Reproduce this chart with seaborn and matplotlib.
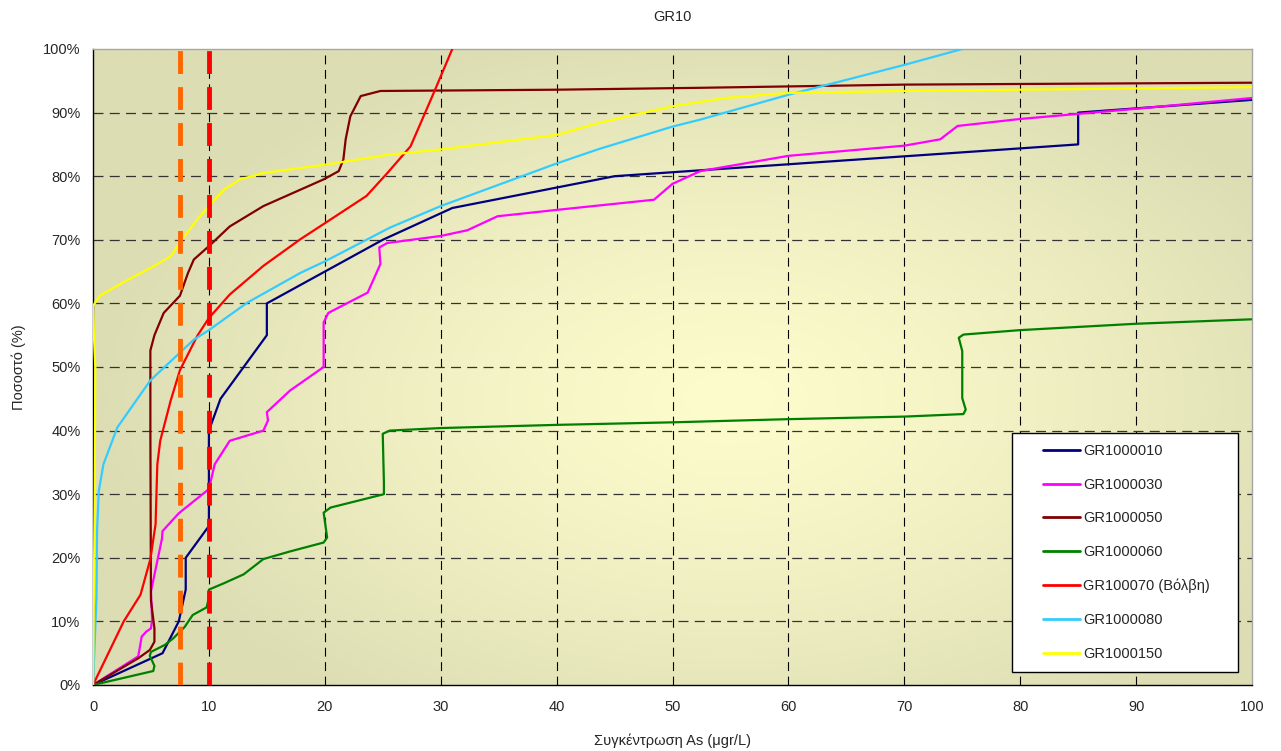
import numpy as np
import pandas as pd
import matplotlib
matplotlib.use("Agg")
import matplotlib.pyplot as plt
from matplotlib.ticker import MultipleLocator, FuncFormatter
from matplotlib.patches import Rectangle
import seaborn as sns

# ---------------- data ----------------
series_names = ["GR1000010", "GR1000030", "GR1000050", "GR1000060",
                "GR100070 (Βόλβη)", "GR1000080", "GR1000150"]
series_colors = ["#000080", "#FF00FF", "#800000", "#008000",
                 "#FF0000", "#33CCFF", "#FFFF00"]

gr010_x = [0, 6, 7.4, 8, 8, 10, 10, 11, 15, 15, 25, 31, 45, 85, 85, 100]
gr010_y = [0, 5, 10, 15, 20, 25, 40, 45, 55, 60, 70, 75, 80, 85, 90, 92]

gr030_x = [0, 3.9, 4.0, 4.2, 4.6, 5.0, 5.1, 5.0, 5.95, 6.0, 7.4, 10, 10.5, 11.8, 14.7, 15.1,
           15.0, 17.0, 19.9, 19.9, 20.3, 23.7, 24.8, 24.7, 25.4, 30, 32.3, 34.9, 40,
           48.4, 50.0, 52.4, 60, 70, 73.1, 74.6, 80, 90, 100]
gr030_y = [0, 4.5, 5.5, 7.6, 8.4, 8.9, 10.2, 14.7, 23, 24.2, 27, 30.8, 34.7, 38.4, 40, 41.6,
           42.9, 46.3, 50, 57, 58.5, 61.7, 66.2, 68.8, 69.5, 70.6, 71.5, 73.7, 74.7,
           76.3, 78.8, 80.8, 83.2, 84.8, 85.8, 87.9, 89, 90.6, 92.3]

gr050_x = [0, 3.9, 4.9, 5.3, 5.3, 5.0, 4.95, 4.95, 5.3, 6.1, 7.5, 8.2, 8.7, 10, 11.8, 14.7,
           19.9, 21.2, 21.6, 21.8, 22.2, 23.1, 24.8, 40, 52.4, 70, 100]
gr050_y = [0, 4.2, 5.5, 6.8, 8.9, 13.3, 40, 52.6, 55, 58.5, 61.2, 64.8, 66.9, 69, 72.1, 75.3,
           79.5, 80.8, 82.6, 85.8, 89.4, 92.6, 93.4, 93.6, 93.9, 94.4, 94.7]

gr060_x = [0, 5.2, 5.3, 4.9, 5.0, 6.2, 6.9, 7.9, 8.6, 9.8, 10, 10, 11.3, 13, 14.7, 17, 19.9,
           20.2, 19.9, 20.5, 25.1, 25.1, 25.0, 25.6, 30, 40, 50, 60, 70, 75.1, 75.3, 75.0,
           75.0, 74.7, 75.1, 80, 90, 100]
gr060_y = [0, 2.2, 3.0, 4.6, 5.2, 6.3, 7.3, 9.1, 11, 12.2, 13.7, 15, 16, 17.4, 19.8, 21, 22.4,
           23.2, 27.1, 27.9, 30, 31.8, 39.5, 40, 40.4, 40.9, 41.3, 41.8, 42.2, 42.6, 43.3, 45.1,
           52.5, 54.6, 55.1, 55.8, 56.8, 57.5]

gr070_x = [0, 2.65, 4.1, 4.95, 5.4, 5.55, 5.8, 6.7, 7.5, 9.0, 10, 11.8, 14.7, 17.9, 20, 23.6,
           25.4, 27.4, 29.4, 31]
gr070_y = [0, 10, 14.2, 19.8, 25.3, 34.7, 38.4, 44.7, 49.5, 54.9, 57.7, 61.4, 65.9, 70.1, 72.6,
           76.9, 80.5, 84.7, 93.1, 100]

gr080_x = [0, 0.3, 0.35, 0.5, 0.9, 2.1, 4.95, 8.7, 10, 13.3, 17.9, 20, 25.6, 30, 40, 43.7, 50,
           52.4, 60, 70, 75]
gr080_y = [0, 13.7, 24.2, 30.5, 34.7, 40.5, 47.9, 54.3, 55.8, 60.1, 64.8, 66.6, 71.9, 75.3, 82,
           84.3, 87.8, 88.9, 92.8, 97.5, 100]

gr150_x = [0, 0.15, 0.2, 0.1, 0, 0.6, 2.6, 5.5, 6.7, 7.7, 9.0, 10, 11.3, 12.7, 14.7, 20, 25.6,
           30, 40, 43.7, 50, 54.6, 60, 70, 100]
gr150_y = [0, 30, 50, 54, 59.6, 61.2, 63.3, 66.1, 67.4, 70.1, 73.2, 75.3, 77.9, 79.5, 80.5, 81.8,
           83.4, 84.2, 86.5, 88.4, 91.0, 92.3, 93.1, 93.4, 94.0]

series_x = [gr010_x, gr030_x, gr050_x, gr060_x, gr070_x, gr080_x, gr150_x]
series_y = [gr010_y, gr030_y, gr050_y, gr060_y, gr070_y, gr080_y, gr150_y]

limit_values = [7.5, 10]
limit_colors = ["#FF6600", "#FF0000"]

x_ticks = list(range(0, 101, 10))
y_ticks = list(range(0, 101, 10))

title = "GR10"
x_label = "Συγκέντρωση As (μgr/L)"
y_label = "Ποσοστό (%)"

# ---------------- style ----------------
sns.set_style("white")
plt.rcParams["font.family"] = ["Liberation Sans", "DejaVu Sans"]

fig = plt.figure(figsize=(12.81, 7.51), dpi=100)
ax = fig.add_axes([93 / 1281, 1 - 685 / 751, (1252 - 93) / 1281, (685 - 49) / 751])

# background gradient of the plot area
nx, ny = 400, 250
gx, gy = np.meshgrid(np.linspace(0, 1, nx), np.linspace(0, 1, ny))
d = np.sqrt(((gx - 0.55) / 0.55) ** 2 + ((gy - 0.45) / 0.6) ** 2)
t = np.clip(d, 0, 1) ** 1.3
light = np.array([252, 252, 204]) / 255.0
dark = np.array([221, 221, 180]) / 255.0
rgb = light[None, None, :] * (1 - t[..., None]) + dark[None, None, :] * t[..., None]
ax.imshow(rgb, extent=[0, 100, 0, 100], aspect="auto", origin="lower", zorder=0,
          interpolation="bilinear")

# grid
for v in x_ticks[1:-1]:
    ax.axvline(v, color="black", lw=0.8, ls=(0, (8, 5)), zorder=1)
for v in y_ticks[1:-1]:
    ax.axhline(v, color="#333333", lw=0.9, ls=(0, (8, 5)), zorder=1)

# series
for name, col, xs, ys in zip(series_names, series_colors, series_x, series_y):
    df = pd.DataFrame({"x": xs, "y": ys})
    sns.lineplot(data=df, x="x", y="y", sort=False, estimator=None, color=col,
                 lw=1.6, ax=ax, label=name, zorder=3)

# limit lines
for v, c in zip(limit_values, limit_colors):
    ax.axvline(v, color=c, lw=3.5, ls=(0, (4.7, 2.7)), zorder=4)

ax.set_xlim(0, 100)
ax.set_ylim(0, 100)
ax.set_xticks(x_ticks)
ax.set_yticks(y_ticks)
ax.xaxis.set_minor_locator(MultipleLocator(2))
ax.yaxis.set_major_formatter(FuncFormatter(lambda v, p: f"{v:.0f}%"))
ax.tick_params(axis="both", which="both", direction="out", length=5, width=1,
               color="black", labelsize=10.5, pad=4)
ax.tick_params(axis="x", which="major", pad=6)
ax.tick_params(axis="x", which="minor", length=5)

for s in ["left", "bottom"]:
    ax.spines[s].set_color("black")
    ax.spines[s].set_linewidth(1.0)
for s in ["top", "right"]:
    ax.spines[s].set_color("#A6A6A6")
    ax.spines[s].set_linewidth(1.0)

ax.set_title(title, fontsize=10.5, pad=20)
ax.set_xlabel(x_label, fontsize=10.5, labelpad=14)
ax.set_ylabel(y_label, fontsize=10.5, labelpad=12)

# legend box (drawn as frame) and legend entries
box = Rectangle(((1012 - 93) / 1159, (685 - 672) / 636), (1238 - 1012) / 1159,
                (672 - 433) / 636, transform=ax.transAxes, facecolor="white",
                edgecolor="black", lw=1.0, zorder=9)
ax.add_patch(box)
leg = ax.legend(loc="upper left", bbox_to_anchor=((1043 - 93) / 1159, (685 - 444) / 636),
                frameon=False, fontsize=10.5, handlelength=2.54, handletextpad=0.2,
                labelspacing=1.35, borderpad=0, borderaxespad=0)
for line in leg.get_lines():
    line.set_linewidth(2.0)
leg.set_zorder(10)

fig.savefig("out.png", dpi=100)
